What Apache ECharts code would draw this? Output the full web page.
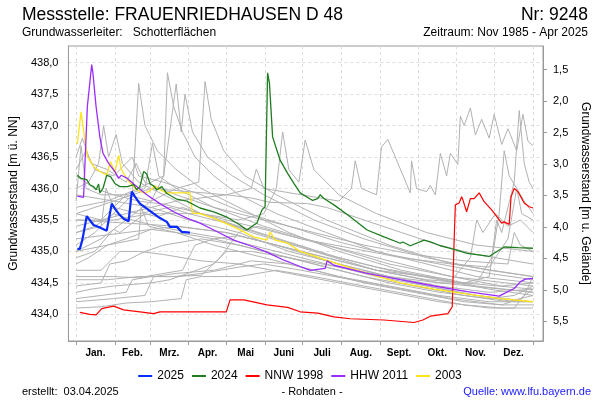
<!DOCTYPE html>
<html><head><meta charset="utf-8">
<script src="https://cdn.jsdelivr.net/npm/echarts@6/dist/echarts.min.js"></script>
<style>html,body{margin:0;padding:0;background:#fff}#c{width:600px;height:400px}</style>
</head><body><div id="c"></div>
<script>
// ---- axis labels / ticks ----
const monthLabels = ['Jan.','Feb.','Mrz.','Apr.','Mai','Juni','Juli','Aug.','Sept.','Okt.','Nov.','Dez.'];
const monthStarts = [0,31,59,90,120,151,181,212,243,273,304,334,365];
const monthMids = [15.5,45,74.5,105,135.5,166,196.5,227.5,258,288.5,319,349.5];
const levelTicks = [434,434.5,435,435.5,436,436.5,437,437.5,438];
const depthTicks = [1.5,2,2.5,3,3.5,4,4.5,5,5.5];
const groundLevel = 439.39;

// ---- highlighted years: [day of year, level m ü. NN] ----
const y2025 = [[1,435.04],[3,435.04],[5,435.18],[8.5,435.56],[10,435.55],[14,435.42],[19,435.38],[24.5,435.33],[26,435.33],[28.5,435.76],[31,435.68],[34,435.6],[38,435.52],[42,435.48],[44.5,435.95],[47,435.87],[51,435.76],[56.5,435.68],[62,435.6],[67,435.53],[72.5,435.47],[75,435.39],[80.5,435.39],[84.5,435.31],[91,435.30]];
const y2024 = [[1,436.21],[4,436.16],[8.5,436.14],[11,436.06],[14,436.03],[16,435.98],[18,436.07],[19,435.93],[21.5,436.0],[24.5,436.21],[27.5,436.19],[31,436.08],[35,436.03],[41,436.03],[46,436.06],[48.5,435.98],[51,436.03],[54,436.27],[56.5,436.23],[59,436.08],[62,436.04],[64.5,435.98],[68.5,436.03],[72.5,435.92],[80.5,435.83],[88.5,435.8],[99,435.69],[110,435.63],[120,435.55],[131,435.42],[136.5,435.34],[142,435.42],[144.5,435.45],[148.5,435.66],[151,435.71],[153,437.84],[154.5,437.67],[157,436.82],[163,436.45],[169,436.24],[174,436.08],[179,435.93],[189,435.81],[193,435.84],[195,435.9],[198,435.84],[206,435.74],[219,435.55],[232.5,435.34],[246,435.23],[259,435.13],[261,435.15],[267,435.09],[278,435.18],[283,435.15],[291,435.09],[299,435.05],[312.5,434.97],[323,434.94],[330,434.92],[334,434.97],[342,435.07],[353,435.06],[365,435.05]];
const nnw1998 = [[3,434.03],[11,434.0],[16,433.99],[20.5,434.09],[30,434.13],[38,434.07],[51,434.04],[62,434.01],[67,434.04],[86,434.04],[120,434.04],[123,434.23],[134,434.23],[152.5,434.15],[169,434.11],[179,434.04],[193,434.02],[206,433.96],[219,433.93],[246,433.91],[270,433.87],[277,433.91],[283,433.97],[297,434.01],[300.5,434.12],[302,435.18],[303,435.74],[306,435.77],[308,435.87],[309,435.82],[312,435.63],[315,435.84],[318,435.84],[322,435.93],[326,435.79],[332,435.66],[337,435.53],[340,435.45],[342,435.47],[346,435.43],[347.5,435.87],[350,436.0],[353,435.95],[358,435.77],[362,435.71],[365,435.69]];
const hhw2011 = [[1,435.88],[6,435.86],[9,437.3],[12.5,437.97],[13.5,437.83],[16,437.3],[19,436.82],[21.5,436.56],[26,436.4],[31,436.27],[34,436.16],[36,436.21],[41,436.16],[46,436.07],[56.5,435.9],[67,435.76],[78,435.63],[88.5,435.53],[99,435.45],[110,435.34],[126,435.18],[142,435.07],[152.5,434.99],[166,434.86],[179,434.76],[187,434.7],[199,434.73],[200.5,434.85],[206,434.78],[232.5,434.65],[259,434.55],[286,434.45],[312.5,434.36],[338,434.29],[341,434.32],[350,434.41],[355,434.52],[359,434.56],[365,434.57]];
const y2003 = [[1,436.71],[4,437.22],[7,436.77],[9,436.51],[14,436.35],[19,436.27],[24.5,436.21],[27.5,436.43],[31,436.25],[34,436.53],[36,436.31],[41,436.14],[48.5,435.98],[54,435.93],[58,435.95],[63,436.04],[67,435.98],[72.5,435.93],[91,435.93],[93,435.61],[99,435.6],[110,435.53],[126,435.39],[142,435.23],[152.5,435.18],[155,435.31],[159,435.18],[169,435.13],[179,435.0],[206,434.82],[232.5,434.65],[259,434.5],[286,434.4],[312.5,434.32],[339,434.25],[365,434.2]];

// ---- other years (grey) ----
const g1 = [[0,435.6],[20,435.5],[40,435.9],[60,435.8],[70,436.2],[73,437.84],[78,437.3],[85,436.9],[95,436.5],[110,436.2],[130,435.9],[160,435.6],[200,435.3],[240,435.0],[280,434.8],[320,434.6],[365,434.5]];
const g2 = [[0,435.3],[15,435.4],[30,435.6],[45,435.9],[50,437.67],[55,437.0],[65,436.6],[80,436.3],[100,436.0],[130,435.7],[170,435.3],[210,435.0],[260,434.7],[310,434.5],[365,434.4]];
const g3 = [[0,435.0],[20,435.2],[40,435.5],[60,435.8],[80,436.0],[98,436.1],[103,437.7],[108,437.1],[118,436.6],[135,436.2],[160,435.9],[200,435.5],[250,435.1],[300,434.8],[365,434.6]];
const g4 = [[0,435.7],[25,435.8],[50,436.0],[70,436.2],[80,437.66],[84,436.9],[87,437.5],[93,436.9],[105,436.5],[125,436.2],[150,435.9],[190,435.5],[230,435.2],[280,434.9],[330,434.7],[365,434.6]];
const g5 = [[0,436.0],[10,436.1],[18,436.4],[22,437.0],[26,436.5],[32,436.86],[37,436.4],[50,436.1],[70,435.9],[100,435.6],[140,435.3],[190,435.0],[240,434.7],[290,434.5],[340,434.4],[365,434.35]];
const g6 = [[0,435.8],[4,436.68],[8,436.0],[20,435.9],[40,435.9],[55,436.0],[61,436.72],[66,436.2],[80,436.0],[110,435.7],[150,435.4],[200,435.1],[250,434.8],[300,434.6],[365,434.45]];
const g7 = [[0,435.5],[30,435.5],[60,435.6],[100,435.6],[130,435.5],[150,435.6],[160,436.0],[165,436.9],[170,436.3],[178,436.1],[183,436.77],[190,436.3],[210,435.9],[240,435.6],[280,435.3],[320,435.1],[365,435.0]];
const g8 = [[0,435.4],[40,435.6],[80,435.8],[120,435.9],[140,436.0],[144,436.31],[150,436.0],[180,435.9],[210,435.8],[220,436.0],[223,436.44],[228,436.0],[240,435.9],[244,436.66],[249,436.78],[255,436.5],[267,435.93],[268,436.44],[272,436.0],[280,435.95],[283,436.05],[287,435.9],[291,436.56],[296,436.2],[299,436.56],[305,436.38],[307,437.15],[310,437.0],[315,437.28],[319,436.85],[324,437.1],[330,436.8],[334,437.18],[340,436.7],[345,436.95],[352,436.6],[357,437.18],[361,436.75],[365,436.68]];
const g9 = [[0,435.2],[40,435.3],[80,435.4],[120,435.3],[160,435.1],[200,434.9],[240,434.7],[280,434.55],[310,434.5],[330,434.6],[338,435.6],[342,436.6],[346,436.2],[352,436.0],[358,435.8],[365,435.6]];
const g10 = [[0,435.9],[30,435.8],[60,435.7],[90,435.5],[130,435.3],[170,435.0],[210,434.8],[250,434.6],[290,434.5],[320,434.5],[332,434.9],[336,435.5],[340,435.3],[350,436.1],[354,437.24],[358,436.4],[362,436.1],[365,436.0]];
const g11 = [[0,434.1],[20,434.12],[40,434.18],[60,434.2],[84,434.25],[88,434.55],[100,434.6],[130,434.6],[160,434.7],[190,434.6],[230,434.45],[270,434.3],[310,434.15],[340,434.1],[365,434.1]];
const g12 = [[0,434.25],[20,434.3],[40,434.35],[45,434.55],[60,434.6],[80,434.6],[100,434.65],[130,434.75],[150,434.8],[180,434.7],[220,434.55],[260,434.4],[300,434.25],[340,434.15],[365,434.15]];
const g13 = [[0,434.6],[30,434.6],[50,434.58],[70,434.65],[85,434.7],[95,435.1],[110,435.2],[130,435.25],[160,435.1],[200,434.85],[240,434.65],[280,434.45],[320,434.3],[365,434.2]];
const g14 = [[0,434.45],[20,434.5],[27,434.8],[40,434.85],[55,435.0],[70,435.1],[100,435.2],[130,435.1],[170,434.9],[210,434.7],[250,434.5],[290,434.35],[330,434.25],[350,434.3],[365,434.45]];
const g15 = [[0,434.8],[10,434.9],[25,435.1],[40,435.2],[60,435.35],[80,435.3],[110,435.1],[150,434.9],[190,434.7],[230,434.5],[270,434.35],[310,434.2],[340,434.15],[355,434.25],[365,434.4]];
const g16 = [[0,435.1],[15,435.3],[30,435.6],[45,435.5],[65,435.4],[90,435.3],[120,435.2],[160,435.0],[200,434.8],[240,434.6],[280,434.45],[320,434.3],[350,434.2],[365,434.2]];
const g17 = [[0,434.7],[20,434.7],[35,435.0],[50,435.0],[70,434.95],[100,434.85],[130,434.8],[170,434.65],[210,434.5],[250,434.35],[290,434.2],[330,434.1],[350,434.1],[358,434.3],[365,434.6]];
const g18 = [[0,435.5],[40,435.45],[80,435.4],[120,435.3],[160,435.1],[200,434.9],[240,434.7],[280,434.6],[300,434.55],[315,434.9],[320,435.5],[325,435.3],[335,435.6],[345,435.4],[355,435.5],[365,435.3]];
const g19 = [[0,436.2],[15,436.0],[30,435.9],[50,435.8],[70,435.75],[100,435.6],[140,435.4],[180,435.2],[220,435.05],[260,434.9],[300,434.8],[330,434.75],[345,435.2],[352,436.0],[356,435.6],[365,435.5]];
const g20 = [[0,435.6],[30,435.8],[60,436.0],[90,435.95],[120,435.9],[140,435.85],[155,435.78],[185,435.76],[200,435.7],[230,435.5],[260,435.3],[290,435.1],[320,434.95],[365,434.8]];
const g21 = [[0,436.3],[8,436.6],[15,436.3],[30,436.2],[45,436.5],[50,436.2],[70,436.1],[100,435.9],[130,435.65],[170,435.4],[210,435.15],[250,434.95],[290,434.8],[330,434.65],[365,434.55]];
const g22 = [[0,434.9],[15,435.0],[30,435.35],[35,435.3],[55,435.6],[65,435.55],[85,435.7],[100,435.6],[130,435.4],[170,435.15],[210,434.9],[250,434.7],[290,434.55],[330,434.4],[365,434.3]];
const g23 = [[0,435.3],[20,435.4],[24,436.0],[30,435.7],[50,435.6],[75,435.7],[90,435.6],[120,435.45],[160,435.2],[200,434.95],[240,434.75],[280,434.6],[320,434.45],[365,434.35]];
const g24 = [[0,435.0],[25,435.1],[50,435.2],[52,435.7],[58,435.4],[80,435.3],[110,435.2],[150,435.0],[190,434.8],[230,434.6],[270,434.45],[310,434.3],[345,434.2],[365,434.3]];
const g25 = [[0,434.35],[12,434.4],[30,434.45],[60,434.5],[75,434.55],[110,434.8],[120,435.0],[140,435.0],[170,434.9],[210,434.75],[250,434.6],[290,434.45],[330,434.35],[365,434.4]];
const g26 = [[0,436.5],[5,436.8],[12,436.4],[25,436.3],[40,436.1],[48,436.4],[55,436.1],[80,435.9],[110,435.7],[150,435.5],[190,435.3],[230,435.1],[270,434.95],[310,434.85],[345,434.8],[350,435.3],[355,435.1],[365,435.0]];
const g27 = [[0,434.2],[30,434.25],[55,434.3],[62,434.6],[80,434.65],[110,434.7],[140,434.85],[170,434.8],[210,434.6],[250,434.45],[290,434.3],[330,434.2],[365,434.2]];
const g28 = [[0,434.55],[25,434.55],[50,434.6],[75,434.6],[100,434.62],[115,434.9],[130,435.3],[145,435.4],[180,435.2],[220,435.0],[260,434.8],[300,434.6],[340,434.45],[365,434.5]];
const greyYears = [g1,g2,g3,g4,g5,g6,g7,g8,g9,g10,g11,g12,g13,g14,g15,g16,g17,g18,g19,g20,g21,g22,g23,g24,g25,g26,g27,g28];

// ---- layout ----
const FONT = 'Liberation Sans, Arial, sans-serif';
const yMin = 433.576, yMax = 438.265;
const fmt = v => Number(v).toFixed(1).replace('.', ',');

const chart = echarts.init(document.getElementById('c'), null, {renderer:'canvas'});

const series = greyYears.map(d => ({
  type:'line', data:d, symbol:'none', silent:true, xAxisIndex:0, yAxisIndex:0,
  lineStyle:{color:'#b2b2b2', width:1}, z:1
}));
const hl = [
  ['NNW 1998', nnw1998, '#ff0000', 1.2],
  ['2003', y2003, '#ffe41a', 1.3],
  ['HHW 2011', hhw2011, '#9a2cff', 1.3],
  ['2024', y2024, '#1e7d1e', 1.3],
  ['2025', y2025, '#0a2aff', 2.2]
];
hl.forEach(([n, d, c, w]) => series.push({
  name:n, type:'line', data:d, symbol:'none', xAxisIndex:0, yAxisIndex:0,
  lineStyle:{color:c, width:w}, itemStyle:{color:c}, z:3
}));
// dummy series to activate right axis
series.push({type:'line', data:[], yAxisIndex:1, xAxisIndex:0, symbol:'none'});

const txt = (x, y, text, size, align, color) => ({
  type:'text', x:x, y:y, silent:true,
  style:{text:text, font: size + 'px ' + FONT, fill: color || '#000', align: align, verticalAlign:'middle'}
});

chart.setOption({
  animation:false,
  backgroundColor:'#fff',
  textStyle:{fontFamily:FONT},
  grid:{left:68, right:57, top:46, bottom:59, show:true, borderColor:'#9a9a9a', borderWidth:1, backgroundColor:'transparent'},
  xAxis:[{
    type:'value', min:-6.1, max:373,
    axisLine:{show:true, onZero:false, lineStyle:{color:'#9a9a9a'}},
    axisTick:{show:true, length:4, lineStyle:{color:'#9a9a9a'}, customValues: monthStarts},
    axisLabel:{show:true, customValues: monthMids, margin:7, fontSize:10, fontWeight:'bold', color:'#000', fontFamily:FONT,
      formatter: v => { const i = monthMids.indexOf(v); return i >= 0 ? monthLabels[i] : ''; }},
    splitLine:{show:true, lineStyle:{color:'#dcdcdc', type:[3,3], width:1}}
  }],
  yAxis:[{
    type:'value', min:yMin, max:yMax, position:'left',
    name:'Grundwasserstand [m ü. NN]', nameLocation:'middle', nameGap:40,
    nameTextStyle:{fontSize:12, color:'#000', fontFamily:FONT},
    axisLine:{show:true, onZero:false, lineStyle:{color:'#9a9a9a'}},
    axisTick:{show:false, customValues: levelTicks},
    axisLabel:{customValues: levelTicks, formatter: fmt, fontSize:11, color:'#000', margin:10, fontFamily:FONT},
    splitLine:{show:true, lineStyle:{color:'#dcdcdc', type:[3,3], width:1}}
  },{
    type:'value', min:groundLevel - yMax, max:groundLevel - yMin, inverse:true, position:'right',
    name:'Grundwasserstand [m u. Gelände]', nameLocation:'middle', nameGap:29, nameRotate:-90,
    nameTextStyle:{fontSize:12, color:'#000', fontFamily:FONT},
    axisLine:{show:true, onZero:false, lineStyle:{color:'#9a9a9a'}},
    axisTick:{show:true, length:4, lineStyle:{color:'#9a9a9a'}, customValues: depthTicks},
    axisLabel:{customValues: depthTicks, formatter: fmt, fontSize:11, color:'#000', margin:10, fontFamily:FONT},
    splitLine:{show:false}
  }],
  legend:{
    data:['2025','2024','NNW 1998','HHW 2011','2003'],
    left:'center', top:365, icon:'rect', itemWidth:14, itemHeight:2, itemGap:8,
    textStyle:{fontSize:12, color:'#000', fontFamily:FONT},
    selectedMode:false
  },
  graphic:[
    txt(22, 15, 'Messstelle: FRAUENRIEDHAUSEN D 48', 17.5, 'left'),
    txt(588, 15, 'Nr: 9248', 17.5, 'right'),
    txt(22, 33, 'Grundwasserleiter:   Schotterflächen', 12, 'left'),
    txt(588, 33, 'Zeitraum: Nov 1985 - Apr 2025', 12, 'right'),
    txt(22, 392, 'erstellt:  03.04.2025', 11, 'left'),
    txt(312, 392, '- Rohdaten -', 11, 'center'),
    txt(591, 392, 'Quelle: www.lfu.bayern.de', 11, 'right', '#1a1aff')
  ],
  series: series
});
</script></body></html>
